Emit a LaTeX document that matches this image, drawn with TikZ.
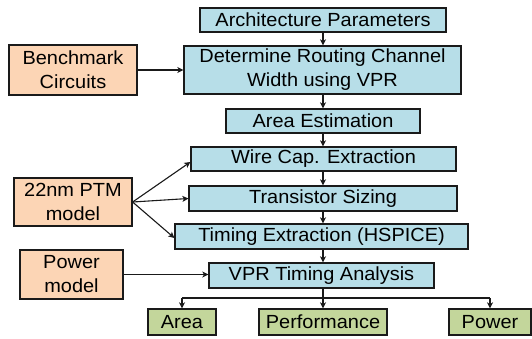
\documentclass[tikz,border=0pt]{standalone}
\usepackage{fontspec}
\setmainfont{Liberation Sans}[FakeStretch=1.05]
\usetikzlibrary{arrows.meta}
\definecolor{bluefill}{HTML}{B7DEE8}
\definecolor{orangefill}{HTML}{FCD5B5}
\definecolor{greenfill}{HTML}{C3D69B}
\definecolor{edge}{HTML}{1A1A1A}
\tikzset{
  box/.style={draw=edge, line width=1.2pt, inner sep=0pt, align=center,
    font=\fontsize{19}{24}\selectfont},
  bluebox/.style={box, fill=bluefill, minimum height=24pt},
  orangebox/.style={box, fill=orangefill},
  greenbox/.style={box, fill=greenfill, minimum height=26pt},
  conn/.style={draw=edge, line width=1.1pt, -{Stealth[length=6pt,width=6pt,inset=1.5pt]}},
  plainline/.style={draw=edge, line width=1.1pt},
}
\begin{document}
\begin{tikzpicture}[x=1pt,y=-1pt]
\useasboundingbox (0,0) rectangle (532,338);
\fill[white] (0,0) rectangle (532,338);
\node[bluebox, minimum width=246pt] (arch) at (323,20) {Architecture Parameters};
\node[bluebox, minimum width=277pt, minimum height=48pt] (det) at (322.5,70) {Determine Routing Channel\\Width using VPR};
\node[bluebox, minimum width=194pt] (area) at (323,121) {Area Estimation};
\node[bluebox, minimum width=265pt] (wire) at (323.5,159) {Wire Cap. Extraction};
\node[bluebox, minimum width=268pt, minimum height=25pt] (trans) at (323,198.5) {Transistor Sizing};
\node[bluebox, minimum width=293pt, minimum height=25pt] (timing) at (321.5,236.5) {Timing Extraction (HSPICE)};
\node[bluebox, minimum width=225pt, minimum height=25pt] (vpr) at (321.5,275.5) {VPR Timing Analysis};
\node[greenbox, minimum width=68pt] (aout) at (182,322) {Area};
\node[greenbox, minimum width=128pt] (perf) at (323,322) {Performance};
\node[greenbox, minimum width=82pt] (pout) at (490,322) {Power};
\node[orangebox, minimum width=128pt, minimum height=50pt] (bench) at (73,70) {Benchmark\\Circuits};
\node[orangebox, minimum width=118pt, minimum height=48pt] (ptm) at (73,202) {22nm PTM\\model};
\node[orangebox, minimum width=103pt, minimum height=49pt] (pmodel) at (71.5,274.5) {Power\\model};

\coordinate (cx) at (323,0);
\draw[conn] (cx |- arch.south) -- (cx |- det.north);
\draw[conn] (cx |- det.south) -- (cx |- area.north);
\draw[conn] (cx |- area.south) -- (cx |- wire.north);
\draw[conn] (cx |- wire.south) -- (cx |- trans.north);
\draw[conn] (cx |- trans.south) -- (cx |- timing.north);
\draw[conn] (cx |- timing.south) -- (cx |- vpr.north);
\draw[conn] (cx |- vpr.south) -- (cx |- perf.north);
\coordinate (br) at (323,298);
\draw[plainline] (aout.north |- br) -- (pout.north |- br);
\draw[conn] (aout.north |- br) -- (aout.north);
\draw[conn] (pout.north |- br) -- (pout.north);

\draw[conn] (bench.east) -- (det.west |- bench.east);
\draw[conn] (pmodel.east) -- (vpr.west |- pmodel.east);
\draw[conn] (ptm.east) -- ([yshift=-3pt]wire.west);
\draw[conn] (ptm.east) -- (trans.west);
\draw[conn] (ptm.east) -- ([yshift=-1.5pt]timing.west);
\end{tikzpicture}
\end{document}
